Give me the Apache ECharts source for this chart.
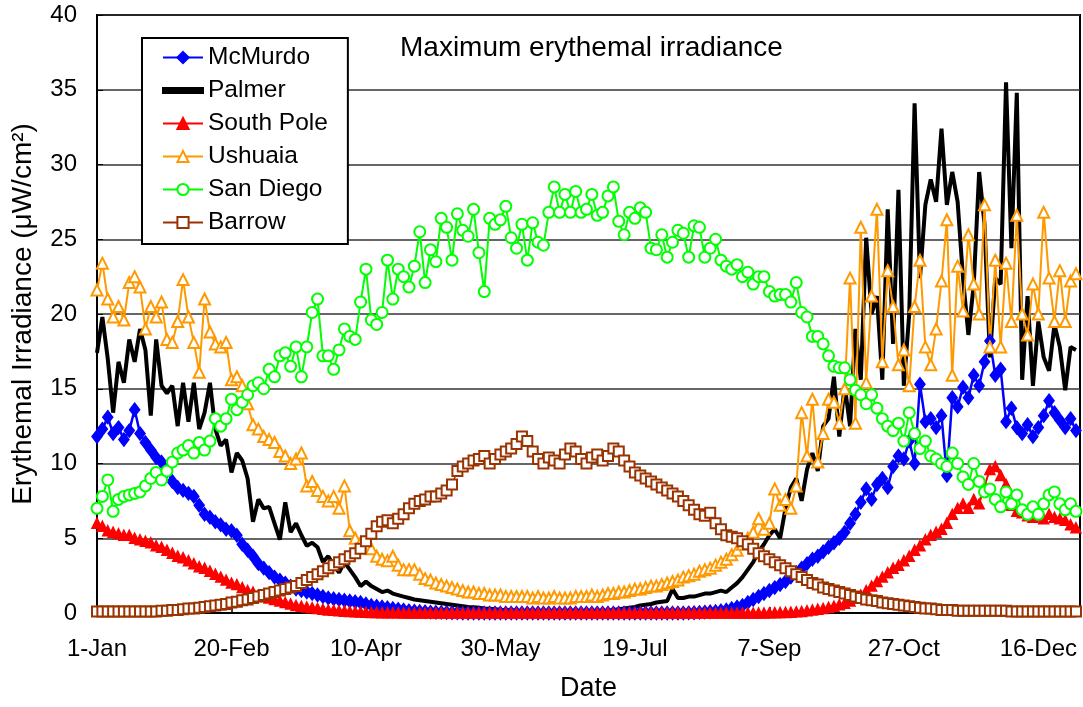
<!DOCTYPE html>
<html>
<head>
<meta charset="utf-8">
<script src="https://cdn.jsdelivr.net/npm/echarts@6/dist/echarts.min.js"></script>
<style>
  html, body { margin: 0; padding: 0; background: #fff; }
  #chart { width: 1083px; height: 707px; }
</style>
</head>
<body>
<div id="chart"></div>
<script>
// x axis: day of year (0 = 1-Jan), one value every 2 days
const tickDays = [0, 50, 100, 150, 200, 250, 300, 350]
const tickLabels = ['1-Jan', '20-Feb', '10-Apr', '30-May', '19-Jul', '7-Sep', '27-Oct', '16-Dec']
const dayStep = 2

const mcmurdo = [
  11.8, 12.3, 13.1, 12.0, 12.4, 11.6, 12.2, 13.6, 12.0, 11.4,
  10.9, 10.4, 10.1, 9.5, 8.8, 8.4, 8.2, 8.0, 7.8, 7.2,
  6.6, 6.4, 6.1, 5.9, 5.6, 5.5, 5.2, 4.6, 4.2, 3.8,
  3.3, 3.0, 2.7, 2.4, 2.2, 2.0, 1.8, 1.6, 1.5, 1.4,
  1.3, 1.2, 1.1, 1.0, 0.95, 0.9, 0.85, 0.8, 0.75, 0.7,
  0.6, 0.5, 0.45, 0.4, 0.35, 0.3, 0.25, 0.2, 0.15, 0.12,
  0.1, 0.08, 0.06, 0.05, 0.04, 0.03, 0.02, 0.01, 0, 0,
  0, 0, 0, 0, 0, 0, 0, 0, 0, 0,
  0, 0, 0, 0, 0, 0, 0, 0, 0, 0,
  0, 0, 0, 0, 0, 0, 0, 0, 0, 0,
  0, 0, 0, 0, 0, 0, 0, 0, 0, 0,
  0.01, 0.02, 0.04, 0.06, 0.08, 0.1, 0.15, 0.2, 0.3, 0.4,
  0.5, 0.7, 0.9, 1.1, 1.3, 1.5, 1.7, 1.9, 2.1, 2.4,
  2.7, 3.0, 3.3, 3.6, 3.8, 4.1, 4.4, 4.7, 5.0, 5.4,
  6.0, 6.6, 7.4, 8.3, 7.6, 8.6, 9.0, 8.4, 9.8, 10.5,
  10.3, 11.5, 10.0, 15.3, 12.8, 13.0, 12.4, 13.2, 9.2, 14.4,
  13.8, 15.1, 14.4, 15.9, 15.2, 16.8, 18.2, 15.9, 16.3, 12.8,
  13.7, 12.4, 12.0, 12.6, 11.8, 12.4, 13.2, 14.2, 13.4, 12.9,
  12.4, 13.0, 12.2
]

const palmer = [
  17.4, 19.8, 17.0, 13.4, 16.8, 15.4, 18.3, 16.8, 19.0, 17.6,
  13.2, 18.3, 15.2, 14.7, 15.2, 12.5, 15.4, 12.8, 15.4, 12.3,
  13.4, 15.4, 12.3, 11.2, 11.6, 9.4, 10.7, 10.2, 9.0, 6.1,
  7.6, 7.0, 7.1, 6.0, 4.9, 7.4, 5.4, 6.0, 5.2, 4.5,
  4.7, 4.4, 3.4, 3.8, 3.2, 2.7, 3.4, 2.9, 2.4, 1.8,
  2.1, 1.8, 1.6, 1.4, 1.5, 1.3, 1.2, 1.1, 1.0, 0.9,
  0.85, 0.8, 0.75, 0.7, 0.65, 0.6, 0.55, 0.5, 0.45, 0.4,
  0.38, 0.35, 0.3, 0.28, 0.25, 0.22, 0.2, 0.18, 0.15, 0.12,
  0.1, 0.1, 0.08, 0.08, 0.06, 0.06, 0.05, 0.05, 0.05, 0.05,
  0.05, 0.06, 0.08, 0.1, 0.12, 0.15, 0.2, 0.25, 0.3, 0.35,
  0.4, 0.5, 0.55, 0.6, 0.7, 0.75, 0.8, 1.6, 1.0, 1.0,
  1.1, 1.1, 1.2, 1.3, 1.3, 1.4, 1.5, 1.4, 1.7, 2.0,
  2.4, 2.9, 3.4, 4.1, 4.6, 5.2, 5.6, 5.0, 7.0, 8.4,
  9.0, 7.5, 9.6, 10.7, 9.5, 12.5, 13.0, 15.8, 11.8, 15.2,
  12.5, 19.0, 15.6, 25.1, 20.0, 21.2, 15.6, 27.0, 18.0, 28.3,
  15.2, 20.0, 34.1, 22.4, 27.3, 29.0, 27.5, 32.4, 27.3, 29.5,
  27.5, 22.4, 18.6, 22.0, 29.5, 26.0, 17.1, 22.4, 22.0, 35.5,
  24.4, 34.8, 15.6, 21.2, 15.2, 19.5, 17.1, 16.2, 19.3, 17.8,
  14.9, 17.8, 17.6
]

const southPole = [
  6.0, 5.8, 5.5, 5.4, 5.3, 5.2, 5.2, 5.0, 4.9, 4.8,
  4.7, 4.5, 4.4, 4.2, 4.0, 3.8, 3.7, 3.5, 3.3, 3.1,
  3.0, 2.8, 2.6, 2.4, 2.2, 2.0, 1.9, 1.7, 1.5, 1.4,
  1.2, 1.1, 1.0, 0.9, 0.8, 0.7, 0.6, 0.5, 0.45, 0.4,
  0.35, 0.3, 0.25, 0.2, 0.18, 0.15, 0.12, 0.1, 0.08, 0.06,
  0.05, 0.04, 0.03, 0.02, 0.02, 0.01, 0.01, 0, 0, 0,
  0, 0, 0, 0, 0, 0, 0, 0, 0, 0,
  0, 0, 0, 0, 0, 0, 0, 0, 0, 0,
  0, 0, 0, 0, 0, 0, 0, 0, 0, 0,
  0, 0, 0, 0, 0, 0, 0, 0, 0, 0,
  0, 0, 0, 0, 0, 0, 0, 0, 0, 0,
  0, 0, 0, 0, 0, 0, 0, 0, 0, 0,
  0, 0, 0, 0, 0, 0.01, 0.02, 0.03, 0.04, 0.05,
  0.08, 0.1, 0.15, 0.2, 0.25, 0.3, 0.38, 0.45, 0.55, 0.65,
  0.8, 1.0, 1.2, 1.5, 1.8, 2.1, 2.4, 2.7, 3.0, 3.2,
  3.5, 3.8, 4.2, 4.5, 4.9, 5.2, 5.4, 5.6, 6.0, 6.6,
  7.0, 7.3, 7.0, 7.6, 7.3, 8.5, 9.6, 9.8, 9.2, 8.6,
  7.2, 6.8, 6.7, 6.5, 6.4, 6.5, 6.3, 6.6, 6.4, 6.3,
  6.2, 5.9, 5.7
]

const ushuaia = [
  21.6, 23.4, 21.0, 19.8, 20.5, 19.6, 22.1, 22.5, 21.8, 19.0,
  20.5, 19.8, 20.8, 18.3, 18.1, 19.5, 22.3, 19.8, 18.1, 16.1,
  21.0, 18.8, 18.0, 17.8, 18.1, 15.6, 15.8, 15.2, 14.0, 12.6,
  12.3, 11.8, 11.6, 11.4, 10.8, 10.5, 10.0, 10.3, 10.7, 8.5,
  8.8, 8.2, 7.8, 7.5, 7.8, 7.0, 8.5, 5.5, 5.0, 4.7,
  4.6, 4.3, 3.8, 3.6, 3.5, 3.8, 3.2, 2.9, 2.9, 2.9,
  2.6, 2.3, 2.2, 2.0, 1.9, 1.8, 1.7, 1.6, 1.5, 1.4,
  1.4, 1.3, 1.3, 1.2, 1.2, 1.2, 1.1, 1.1, 1.1, 1.1,
  1.1, 1.0, 1.1, 1.0, 1.0, 1.1, 1.0, 1.0, 1.0, 1.1,
  1.1, 1.1, 1.2, 1.1, 1.2, 1.3, 1.3, 1.4, 1.4, 1.5,
  1.6, 1.6, 1.7, 1.8, 1.8, 1.9, 2.0, 2.1, 2.2, 2.4,
  2.5, 2.6, 2.8, 2.9, 3.0, 3.2, 3.4, 3.6, 3.9, 4.2,
  4.6, 5.0, 5.4, 6.3, 5.6, 6.0, 8.3, 7.2, 7.6, 7.0,
  8.5, 13.4, 10.5, 14.3, 10.1, 12.0, 14.3, 14.1, 12.7, 15.0,
  22.4, 12.7, 25.8, 15.4, 21.2, 27.0, 16.8, 22.9, 20.5, 16.6,
  17.6, 15.2, 20.5, 23.6, 17.8, 16.6, 19.0, 22.2, 26.3, 15.9,
  23.2, 20.2, 25.3, 22.0, 20.0, 27.3, 17.8, 23.6, 17.8, 23.4,
  19.5, 26.6, 20.0, 18.6, 22.0, 20.0, 26.8, 22.4, 19.5, 22.9,
  19.5, 22.2, 22.7
]

const sanDiego = [
  7.0, 7.8, 8.9, 6.8, 7.6, 7.8, 7.9, 8.0, 8.1, 8.5,
  9.0, 9.4, 8.9, 9.5, 10.1, 10.7, 10.9, 11.2, 10.7, 11.4,
  10.9, 11.5, 13.0, 12.5, 13.0, 14.3, 13.6, 14.1, 14.6, 15.2,
  15.4, 15.0, 16.3, 15.8, 17.2, 17.4, 16.5, 17.8, 15.8, 17.8,
  20.1, 21.0, 17.2, 17.2, 16.3, 17.6, 19.0, 18.5, 18.3, 20.8,
  23.0, 19.6, 19.3, 20.1, 23.6, 21.0, 23.0, 22.5, 21.8, 23.2,
  25.5, 22.1, 24.3, 23.5, 26.4, 25.8, 23.6, 26.7, 25.6, 25.2,
  27.0, 24.1, 21.5, 26.4, 26.0, 26.3, 27.2, 25.1, 24.4, 26.0,
  23.6, 26.1, 24.8, 24.6, 26.8, 28.5, 26.8, 28.0, 26.8, 28.2,
  26.8, 27.0, 28.0, 26.6, 26.8, 27.9, 28.5, 26.2, 25.3, 26.8,
  26.4, 27.1, 26.8, 24.4, 24.3, 25.3, 23.8, 24.8, 25.6, 25.4,
  23.8, 25.9, 25.8, 23.8, 24.4, 25.0, 23.6, 23.2, 23.0, 23.3,
  22.5, 22.8, 22.0, 22.5, 22.5, 21.5, 21.2, 21.3, 21.3, 20.8,
  22.1, 20.1, 19.8, 18.5, 18.5, 18.0, 17.2, 16.5, 16.4, 16.4,
  15.6, 14.9, 14.6, 14.0, 14.6, 13.7, 13.0, 12.5, 12.2, 12.7,
  11.5, 13.4, 12.0, 11.0, 11.5, 10.5, 10.3, 10.0, 9.8, 10.7,
  10.0, 9.1, 8.6, 10.0, 8.8, 8.1, 8.3, 7.6, 7.1, 8.1,
  7.3, 7.9, 6.9, 6.6, 7.1, 6.6, 7.3, 7.9, 8.1, 7.3,
  6.9, 7.3, 6.8
]

const barrow = [
  0.1, 0.1, 0.1, 0.1, 0.1, 0.1, 0.1, 0.1, 0.1, 0.1,
  0.1, 0.1, 0.15, 0.15, 0.2, 0.2, 0.25, 0.3, 0.3, 0.35,
  0.4, 0.45, 0.5, 0.55, 0.6, 0.7, 0.75, 0.85, 0.9, 1.0,
  1.1, 1.2, 1.3, 1.4, 1.5, 1.6, 1.7, 1.8, 2.0, 2.2,
  2.4, 2.6, 2.8, 3.0, 3.2, 3.4, 3.6, 3.8, 4.0, 4.3,
  4.8, 5.3, 5.8, 6.1, 6.2, 6.0, 6.3, 6.6, 7.0, 7.3,
  7.5, 7.6, 7.8, 7.8, 8.0, 8.2, 8.6, 9.5, 9.8, 10.0,
  10.2, 10.3, 10.5, 10.0, 10.3, 10.6, 10.8, 11.0, 11.3, 11.8,
  11.5, 10.8, 10.3, 10.0, 10.4, 10.2, 10.0, 10.6, 11.0, 10.8,
  10.3, 10.0, 10.4, 10.6, 10.2, 10.5, 11.0, 10.8, 10.2, 9.8,
  9.4, 9.2, 9.0, 8.8, 8.6, 8.4, 8.2, 8.0, 7.8, 7.5,
  7.2, 6.9, 6.6, 6.5, 6.7, 6.0, 5.6, 5.2, 5.1, 5.0,
  4.8, 4.6, 4.3, 4.0, 3.8, 3.6, 3.4, 3.2, 3.0, 2.8,
  2.6, 2.4, 2.2, 2.0, 1.9, 1.7, 1.6, 1.5, 1.4, 1.3,
  1.2, 1.1, 1.0, 0.9, 0.85, 0.8, 0.7, 0.65, 0.6, 0.55,
  0.5, 0.45, 0.4, 0.35, 0.3, 0.3, 0.25, 0.2, 0.2, 0.2,
  0.15, 0.15, 0.15, 0.15, 0.15, 0.15, 0.15, 0.15, 0.15, 0.15,
  0.1, 0.1, 0.1, 0.1, 0.1, 0.1, 0.1, 0.1, 0.1, 0.1,
  0.1, 0.1, 0.1
]

const FONT = 'Liberation Sans'

function pairs(vals) {
  return vals.map((v, i) => [i * dayStep, v])
}

function lineSeries(name, vals, color, symbol, size, width) {
  return {
    name: name,
    type: 'line',
    data: pairs(vals),
    symbol: symbol,
    symbolSize: size,
    showSymbol: symbol !== 'none',
    lineStyle: { color: color, width: width },
    itemStyle: { color: color, borderColor: color, borderWidth: 1.5 },
    emphasis: { disabled: true }
  }
}

const chart = echarts.init(document.getElementById('chart'), null, { renderer: 'canvas' })

chart.setOption({
  animation: false,
  backgroundColor: '#fff',
  textStyle: { fontFamily: FONT },
  title: {
    text: 'Maximum erythemal irradiance',
    left: 400,
    top: 34,
    padding: 0,
    textStyle: { fontFamily: FONT, fontSize: 28, fontWeight: 'normal', color: '#000' }
  },
  legend: {
    orient: 'vertical',
    left: 142,
    top: 38,
    padding: [7, 20, 9, 20],
    itemGap: 8,
    itemWidth: 40,
    itemHeight: 14,
    backgroundColor: '#fff',
    borderColor: '#000',
    borderWidth: 2,
    textStyle: { fontFamily: FONT, fontSize: 24.5, color: '#000' },
    data: [
      'McMurdo',
      // Palmer is drawn without markers: plain thick line in the key
      { name: 'Palmer', icon: 'path://M0,0 L40,0 L40,5 L0,5 Z' },
      'South Pole', 'Ushuaia', 'San Diego', 'Barrow'
    ]
  },
  grid: {
    left: 97,
    right: 3,
    top: 15,
    bottom: 93,
    show: true,
    borderColor: '#000',
    borderWidth: 2,
    backgroundColor: 'transparent'
  },
  xAxis: {
    type: 'value',
    min: 0,
    max: 365.5,
    interval: 50,
    name: 'Date',
    nameLocation: 'middle',
    nameGap: 62,
    nameTextStyle: { fontFamily: FONT, fontSize: 27, color: '#000' },
    axisLine: { lineStyle: { color: '#000', width: 2 } },
    axisTick: { inside: true, length: 6, lineStyle: { color: '#000', width: 1.5 } },
    splitLine: { show: false },
    axisLabel: {
      fontFamily: FONT,
      fontSize: 24,
      color: '#000',
      margin: 24,
      showMaxLabel: false,
      formatter: function (v) {
        const i = tickDays.indexOf(v)
        return i >= 0 ? tickLabels[i] : ''
      }
    }
  },
  yAxis: {
    type: 'value',
    min: 0,
    max: 40,
    interval: 5,
    name: 'Erythemal Irradiance (μW/cm²)',
    nameLocation: 'middle',
    nameRotate: 90,
    nameGap: 60,
    nameTextStyle: { fontFamily: FONT, fontSize: 28, color: '#000' },
    axisLine: { show: true, lineStyle: { color: '#000', width: 2 } },
    axisTick: { show: true, inside: true, length: 6, lineStyle: { color: '#000' } },
    splitLine: { lineStyle: { color: '#333', width: 1.5 } },
    axisLabel: { fontFamily: FONT, fontSize: 24, color: '#000', margin: 20 }
  },
  series: [
    lineSeries('McMurdo', mcmurdo, '#0000ff', 'diamond', [10, 13], 2.5),
    lineSeries('Palmer', palmer, '#000000', 'none', 0, 4),
    lineSeries('South Pole', southPole, '#ff0000', 'triangle', 10, 2),
    lineSeries('Ushuaia', ushuaia, '#ff9900', 'emptyTriangle', 11, 2),
    lineSeries('San Diego', sanDiego, '#00ff00', 'emptyCircle', 11, 2),
    lineSeries('Barrow', barrow, '#993300', 'emptyRect', 10, 1.5)
  ]
})
</script>
</body>
</html>
